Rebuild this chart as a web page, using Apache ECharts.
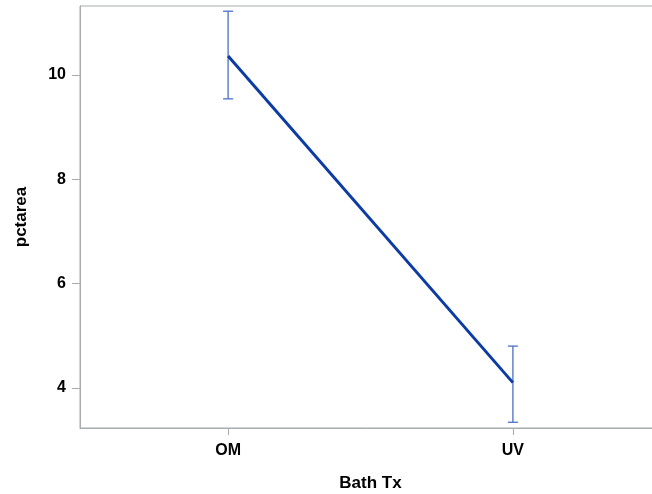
<!DOCTYPE html>
<html>
<head>
    <meta charset="utf-8">
    <title>pctarea by Bath Tx</title>
    <script src="https://cdn.jsdelivr.net/npm/echarts@6/dist/echarts.min.js"></script>
    <style>
        html, body { margin: 0; padding: 0; background: #fff; }
    </style>
</head>
<body>
    <div id="main" style="width: 652px;height:494px;"></div>
    <script type="text/javascript">
        // data
        var categories = ['OM', 'UV'];
        var means = [10.36, 4.10];
        var lower = [9.54, 3.34];
        var upper = [11.22, 4.80];
        var yTicks = [4, 6, 8, 10];

        var font = '"Liberation Sans", Arial, sans-serif';
        var axisGrey = '#a6acaf';

        // categories are placed at 1, 2 on a value axis so the offsets match the picture
        var linePts = means.map(function (v, i) { return [i + 1, v]; });
        var barPts = means.map(function (v, i) { return [i + 1, lower[i], upper[i]]; });

        var myChart = echarts.init(document.getElementById('main'));
        var option = {
            animation: false,
            grid: {
                show: true,
                left: 80,
                top: 6,
                width: 581,
                bottom: 66,
                outerBoundsMode: 'none',
                containLabel: false,
                borderColor: axisGrey,
                borderWidth: 1
            },
            xAxis: {
                type: 'value',
                min: 0.48,
                max: 2.52,
                interval: 1,
                name: 'Bath Tx',
                nameLocation: 'middle',
                nameGap: 47,
                nameTextStyle: { fontFamily: font, fontSize: 17, fontWeight: 'bold', color: '#000' },
                splitLine: { show: false },
                axisLine: { lineStyle: { color: axisGrey } },
                axisTick: {
                    show: true,
                    length: 7,
                    lineStyle: { color: axisGrey },
                    customValues: [1, 2]
                },
                axisLabel: {
                    fontFamily: font,
                    fontSize: 16,
                    fontWeight: 'bold',
                    color: '#000',
                    margin: 15,
                    customValues: [1, 2],
                    formatter: function (v) { return categories[Math.round(v) - 1] || ''; }
                }
            },
            yAxis: {
                type: 'value',
                min: 3.23,
                max: 11.32,
                name: 'pctarea',
                nameLocation: 'middle',
                nameGap: 50,
                nameTextStyle: { fontFamily: font, fontSize: 17, fontWeight: 'bold', color: '#000' },
                splitLine: { show: false },
                axisLine: { show: true, lineStyle: { color: axisGrey } },
                axisTick: {
                    show: true,
                    length: 8,
                    lineStyle: { color: axisGrey },
                    customValues: yTicks
                },
                axisLabel: {
                    fontFamily: font,
                    fontSize: 16,
                    fontWeight: 'bold',
                    color: '#000',
                    margin: 14,
                    customValues: yTicks
                }
            },
            series: [
                {
                    type: 'custom',
                    data: barPts,
                    z: 2,
                    renderItem: function (params, api) {
                        var x = api.value(0);
                        var lo = api.coord([x, api.value(1)]);
                        var hi = api.coord([x, api.value(2)]);
                        var half = 5;
                        var st = { stroke: '#4a6fc5', lineWidth: 1.3 };
                        return {
                            type: 'group',
                            children: [
                                { type: 'line', shape: { x1: hi[0], y1: hi[1], x2: lo[0], y2: lo[1] }, style: st },
                                { type: 'line', shape: { x1: hi[0] - half, y1: hi[1], x2: hi[0] + half, y2: hi[1] }, style: st },
                                { type: 'line', shape: { x1: lo[0] - half, y1: lo[1], x2: lo[0] + half, y2: lo[1] }, style: st }
                            ]
                        };
                    }
                },
                {
                    type: 'line',
                    data: linePts,
                    z: 3,
                    showSymbol: false,
                    symbol: 'none',
                    lineStyle: { color: '#0c3ca3', width: 3 }
                }
            ]
        };
        myChart.setOption(option);
    </script>
</body>
</html>
